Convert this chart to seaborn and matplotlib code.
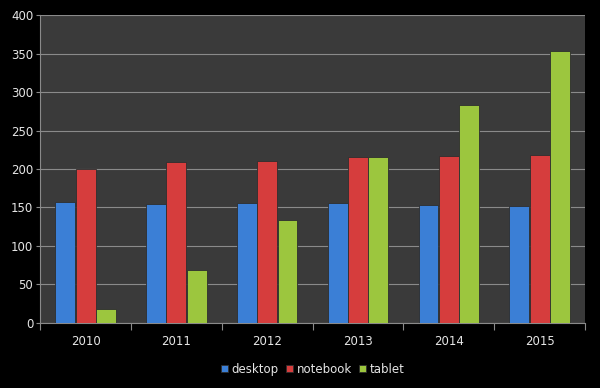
import matplotlib.pyplot as plt
import pandas as pd
import seaborn as sns
import numpy as np

# Device sales by year

years = ['2010', '2011', '2012', '2013', '2014', '2015']
desktop = [157, 155, 156, 156, 153, 152]
notebook = [200, 209, 210, 215, 217, 218]
tablet = [18, 69, 134, 216, 283, 353]

df = pd.DataFrame({'year': years * 3,
                   'value': desktop + notebook + tablet,
                   'device': ['desktop'] * 6 + ['notebook'] * 6 + ['tablet'] * 6})

colors = ['#3b7fd6', '#d63d3d', '#9cc63e']
txt = '#e6e6e6'

sns.set_theme(style="dark")
plt.rcParams['font.family'] = ['DejaVu Sans']

fig = plt.figure(figsize=(6, 3.88), dpi=100, facecolor='black')
ax = fig.add_axes([0.067, 0.168, 0.908, 0.793])
ax.set_facecolor('#3a3a3a')

sns.barplot(data=df, x='year', y='value', hue='device', palette=colors, saturation=1,
            width=0.67, gap=0.02, edgecolor='#2e2e2e', linewidth=0.6, ax=ax, zorder=3)

ax.set_ylim(0, 400)
ax.set_xlim(-0.5, 5.5)
ax.set_yticks(range(0, 401, 50))
ax.grid(axis='y', color='#8a8a8a', linewidth=0.8, zorder=0)
ax.set_axisbelow(True)
ax.set_xlabel('')
ax.set_ylabel('')

ax.set_xticks(np.arange(-0.5, 6, 1), minor=True)
ax.tick_params(axis='x', which='major', bottom=False, length=0, colors=txt, labelsize=8.5, pad=9)
ax.tick_params(axis='x', which='minor', bottom=True, length=5, width=0.8, color='#8a8a8a', direction='out')
ax.tick_params(axis='y', left=True, length=3, width=0.8, color='#8a8a8a', labelcolor=txt,
               labelsize=8.5, pad=2)
for s in ['top', 'right']:
    ax.spines[s].set_visible(False)
for s in ['left', 'bottom']:
    ax.spines[s].set_color('#8a8a8a')
    ax.spines[s].set_linewidth(0.8)

leg = ax.legend(loc='upper center', bbox_to_anchor=(0.5, -0.095), ncol=3, frameon=False,
                handlelength=0.6, handleheight=0.6, handletextpad=0.3, columnspacing=0.6,
                fontsize=8.5)
for t in leg.get_texts():
    t.set_color(txt)

fig.savefig('out.png', dpi=100, facecolor='black')
